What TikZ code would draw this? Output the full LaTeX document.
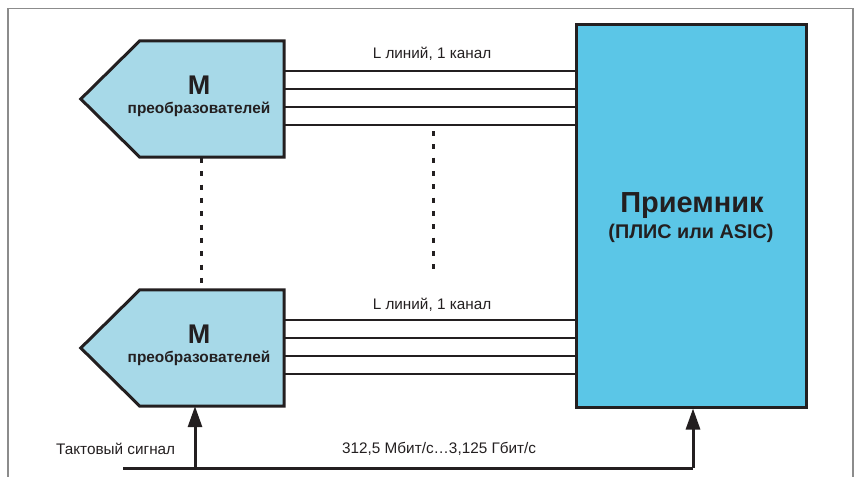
\documentclass[tikz,border=0pt]{standalone}
\usepackage{fontspec}
\setmainfont{Liberation Sans}
\usetikzlibrary{arrows.meta,calc}
\definecolor{convfill}{RGB}{167,217,232}
\definecolor{recfill}{RGB}{91,198,231}
\definecolor{ink}{RGB}{35,31,32}
\definecolor{framec}{RGB}{140,140,140}
\tikzset{
  convbody/.style={minimum width=144pt,minimum height=116pt,inner sep=0pt,draw=none},
  convshape/.style={fill=convfill,draw=ink,line width=3pt,line join=miter},
  recbox/.style={fill=recfill,draw=ink,line width=3pt,minimum width=230pt,minimum height=383pt,inner sep=0pt},
  bus/.style={draw=ink,line width=2.5pt},
  dotline/.style={draw=ink,line width=3pt,dash pattern=on 5pt off 8.33pt},
  wire/.style={draw=ink,line width=3pt},
  arr/.style={draw=ink,line width=3pt,-{Triangle[length=21pt,width=14pt]}},
  bigM/.style={font=\fontsize{27}{30}\selectfont\bfseries,text=ink,anchor=base,inner sep=0pt},
  convtxt/.style={font=\fontsize{15.4}{17}\selectfont\bfseries,text=ink,anchor=base,inner sep=0pt},
  lbl/.style={font=\fontsize{15.3}{17}\selectfont,text=ink,anchor=base,inner sep=0pt},
  rectitle/.style={font=\fontsize{29}{31}\selectfont\bfseries,text=ink,anchor=base,inner sep=0pt},
  recsub/.style={font=\fontsize{19.8}{22}\selectfont\bfseries,text=ink,anchor=base,inner sep=0pt}
}
\begin{document}
\begin{tikzpicture}[x=1pt,y=-1pt]
\useasboundingbox (0,0) rectangle (855,477);
\draw[framec,line width=1.5pt] (8,477) -- (8,8.5) -- (853,8.5) -- (853,477);

% receiver
\node[recbox] (rec) at (691,215.5) {};
\node[rectitle] (rt) at (692,212) {Приемник};
\node[recsub] (rs) at (691,238) {(ПЛИС или ASIC)};

% converters
\node[convbody] (c1) at (212,99) {};
\node[convbody] (c2) at (212,348) {};
\foreach \c in {c1,c2}{
  \filldraw[convshape] (\c.north east) -- (\c.north west) -- ([xshift=-59pt]\c.west) -- (\c.south west) -- (\c.south east) -- cycle;
}
\node[bigM] (m1) at (199,94) {M};
\node[convtxt] (p1) at (199,113) {преобразователей};
\node[bigM] (m2) at (199,343) {M};
\node[convtxt] (p2) at (199,362) {преобразователей};

% buses
\foreach \c in {c1,c2}{
  \foreach \d in {30,48,66,84}{
    \draw[bus] ([yshift=-\d pt]\c.north east) -- ([yshift=-\d pt]\c.north east -| rec.west);
  }
}
\node[lbl] (l1) at (432,58) {L линий, 1 канал};
\node[lbl] (l2) at (432,309) {L линий, 1 канал};

% dotted lines
\coordinate (d1a) at (201,158);
\coordinate (d1b) at (201,290);
\draw[dotline] (d1a) -- (d1b);
\coordinate (d2a) at (433,131);
\coordinate (d2b) at (433,269);
\draw[dotline] (d2a) -- (d2b);

% clock
\coordinate (clk) at (123,468);
\coordinate (j1) at (195,468);
\coordinate (j2) at (693,468);
\draw[wire] (clk) -- (j2);
\draw[arr] (j1) -- (j1 |- c2.south);
\draw[arr] (j2) -- (j2 |- rec.south);
\node[lbl,anchor=base west] (ts) at (56,454) {Тактовый сигнал};
\node[lbl,anchor=base west] (rate) at (342,453) {312,5 Мбит/с…3,125 Гбит/с};
\end{tikzpicture}
\end{document}
